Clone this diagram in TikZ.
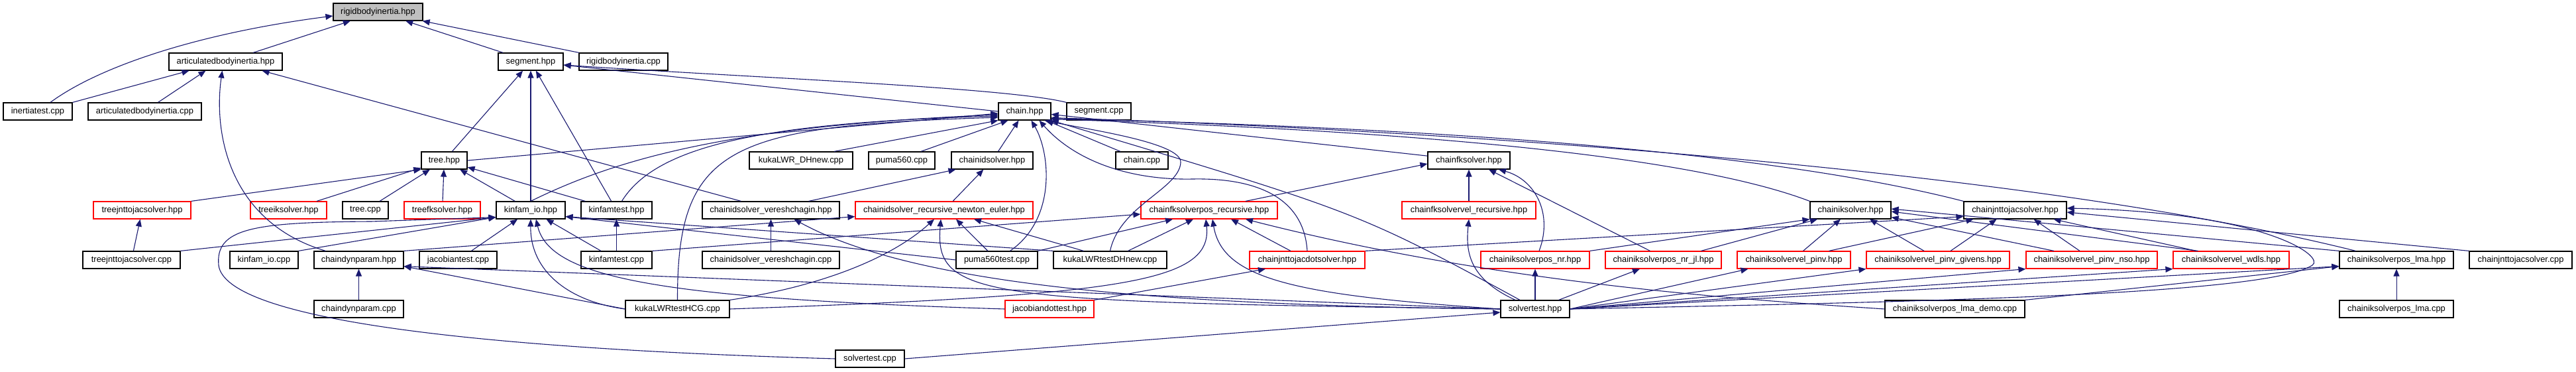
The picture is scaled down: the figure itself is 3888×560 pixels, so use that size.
\documentclass[tikz,border=0pt]{standalone}
\usepackage{fontspec}
\setmainfont{Liberation Sans}
\usetikzlibrary{arrows.meta}
\definecolor{eblue}{RGB}{25,25,112}
\begin{document}
\begin{tikzpicture}[x=1pt,y=-1pt,
  box/.style={draw=black, line width=1.2pt, fill=white, minimum height=26pt, inner sep=0pt, font=\fontsize{12.9}{14}\selectfont},
  rbox/.style={box, draw=red},
  edg/.style={draw=eblue, line width=1.1pt, -{Triangle[length=11pt,width=9pt]}},
]
\fill[white] (0,0) rectangle (3888,560);
\useasboundingbox (0,0) rectangle (3888,560);
% row 0
\node[box,fill=black!25,minimum width=135pt] (rbih) at (570.5,18) {rigidbodyinertia.hpp};
% row 1
\node[box,minimum width=171pt] (abih) at (340.5,93) {articulatedbodyinertia.hpp};
\node[box,minimum width=98pt] (segh) at (801,93) {segment.hpp};
\node[box,minimum width=134pt] (rbic) at (941,93) {rigidbodyinertia.cpp};
% row 2
\node[box,minimum width=104pt] (inertc) at (57,168) {inertiatest.cpp};
\node[box,minimum width=171pt] (abic) at (218.5,168) {articulatedbodyinertia.cpp};
\node[box,minimum width=79pt] (chainh) at (1546.5,168) {chain.hpp};
\node[box,minimum width=97pt] (segc) at (1658.5,168) {segment.cpp};
% row 3
\node[box,minimum width=69pt] (treeh) at (670.5,242) {tree.hpp};
\node[box,minimum width=156pt] (kukadh) at (1209,242) {kukaLWR\_DHnew.cpp};
\node[box,minimum width=100pt] (pumac) at (1361,242) {puma560.cpp};
\node[box,minimum width=123pt] (cidh) at (1497.5,242) {chainidsolver.hpp};
\node[box,minimum width=79pt] (chainc) at (1723.5,242) {chain.cpp};
\node[box,minimum width=124pt] (cfkh) at (2217,242) {chainfksolver.hpp};
% row 4
\node[rbox,minimum width=147pt] (tjsh) at (214.5,317) {treejnttojacsolver.hpp};
\node[rbox,minimum width=115pt] (tikh) at (435.5,317) {treeiksolver.hpp};
\node[box,minimum width=69pt] (treec) at (551.5,317) {tree.cpp};
\node[rbox,minimum width=115pt] (tfkh) at (667.5,317) {treefksolver.hpp};
\node[box,minimum width=104pt] (kioh) at (801,317) {kinfam\_io.hpp};
\node[box,minimum width=107pt] (kfth) at (930.5,317) {kinfamtest.hpp};
\node[box,minimum width=207pt] (cverh) at (1163.5,317) {chainidsolver\_vereshchagin.hpp};
\node[rbox,minimum width=268pt] (crneh) at (1425,317) {chainidsolver\_recursive\_newton\_euler.hpp};
\node[rbox,minimum width=206pt] (cfkprh) at (1825,317) {chainfksolverpos\_recursive.hpp};
\node[rbox,minimum width=202pt] (cfkvrh) at (2217,317) {chainfksolvervel\_recursive.hpp};
\node[box,minimum width=122pt] (cikh) at (2793,317) {chainiksolver.hpp};
\node[box,minimum width=155pt] (cjtjh) at (3041.5,317) {chainjnttojacsolver.hpp};
% row 5
\node[box,minimum width=147pt] (tjsc) at (198.5,392) {treejnttojacsolver.cpp};
\node[box,minimum width=103pt] (kioc) at (398.5,392) {kinfam\_io.cpp};
\node[box,minimum width=135pt] (cdph) at (541.5,392) {chaindynparam.hpp};
\node[box,minimum width=117pt] (jactc) at (691.5,392) {jacobiantest.cpp};
\node[box,minimum width=107pt] (kftc) at (930.5,392) {kinfamtest.cpp};
\node[box,minimum width=207pt] (cverc) at (1163.5,392) {chainidsolver\_vereshchagin.cpp};
\node[box,minimum width=123pt] (pumat) at (1504.5,392) {puma560test.cpp};
\node[box,minimum width=171pt] (kukadht) at (1675.5,392) {kukaLWRtestDHnew.cpp};
\node[rbox,minimum width=174pt] (cjtjdh) at (1973,392) {chainjnttojacdotsolver.hpp};
\node[rbox,minimum width=164pt] (cikpnrh) at (2317,392) {chainiksolverpos\_nr.hpp};
\node[rbox,minimum width=175pt] (cikpnrjlh) at (2510.5,392) {chainiksolverpos\_nr\_jl.hpp};
\node[rbox,minimum width=171pt] (cikvph) at (2707.5,392) {chainiksolvervel\_pinv.hpp};
\node[rbox,minimum width=216pt] (cikvpgh) at (2925,392) {chainiksolvervel\_pinv\_givens.hpp};
\node[rbox,minimum width=198pt] (cikvpnh) at (3157,392) {chainiksolvervel\_pinv\_nso.hpp};
\node[rbox,minimum width=175pt] (cikvwh) at (3367.5,392) {chainiksolvervel\_wdls.hpp};
\node[box,minimum width=172pt] (ciklmah) at (3617,392) {chainiksolverpos\_lma.hpp};
\node[box,minimum width=155pt] (cjtjc) at (3804.5,392) {chainjnttojacsolver.cpp};
% row 6
\node[box,minimum width=135pt] (cdpc) at (541.5,466) {chaindynparam.cpp};
\node[box,minimum width=157pt] (hcgc) at (1022.5,466) {kukaLWRtestHCG.cpp};
\node[rbox,minimum width=134pt] (jdth) at (1584,466) {jacobiandottest.hpp};
\node[box,minimum width=104pt] (sth) at (2317,466) {solvertest.hpp};
\node[box,minimum width=211pt] (lmademo) at (2950.5,466) {chainiksolverpos\_lma\_demo.cpp};
\node[box,minimum width=172pt] (ciklmac) at (3617,466) {chainiksolverpos\_lma.cpp};
% row 7
\node[box,minimum width=104pt] (stc) at (1313,541) {solvertest.cpp};

% ---- edges to rigidbodyinertia.hpp
\draw[edg] ([xshift=19pt]inertc.north) .. controls (150,100) and (300,50) .. ([yshift=-6pt]rbih.west);
\draw[edg] (abih) -- (rbih);
\draw[edg] (segh) -- (rbih);
\draw[edg] (rbic) -- (rbih);
% ---- to articulatedbodyinertia.hpp
\draw[edg] (inertc.north east) -- ([xshift=-55pt]abih.south);
\draw[edg] ([xshift=20pt]abic.north) -- ([xshift=-30pt]abih.south);
\draw[edg] ([xshift=-50pt]cdph.north) .. controls (345,335) and (322,200) .. ([xshift=-5pt]abih.south);
\draw[edg] ([xshift=-45pt]cverh.north) -- ([xshift=55pt]abih.south);
% ---- to segment.hpp
\draw[edg] (treeh) -- (segh);
\draw[edg] (kioh) -- (segh);
\draw[edg] (kfth) -- (segh);
\draw[edg] (chainh.west) -- ([yshift=-5pt]segh.east);
\draw[edg] (segc.north west) .. controls (1520,132) and (1150,118) .. ([yshift=-5pt]segh.east);
% ---- to chain.hpp
\draw[edg] (treeh.east) -- ([yshift=-3pt]chainh.west);
\draw[edg] (kioh.north) .. controls (930,240) and (1100,190) .. ([yshift=-5pt]chainh.west);
\draw[edg] ([xshift=8pt]kfth.north) .. controls (990,220) and (1150,185) .. ([yshift=-7pt]chainh.west);
\draw[edg] (hcgc.north) .. controls (1022,220) and (1100,190) .. ([yshift=-9pt]chainh.west);
\draw[edg] ([xshift=50pt]kukadh.north) -- (chainh.south west);
\draw[edg] ([xshift=29pt]pumac.north) -- ([xshift=-25pt]chainh.south);
\draw[edg] (cidh) -- (chainh);
\draw[edg] ([xshift=20pt]pumat.north) .. controls (1595,330) and (1585,230) .. ([xshift=10pt]chainh.south);
\draw[edg] (kukadht.north) .. controls (1690,310) and (1780,285) .. (1782,245) .. controls (1784,215) and (1640,195) .. ([xshift=30pt]chainh.south);
\draw[edg] (cjtjdh.north) .. controls (1968,300) and (1900,268) .. (1800,270) .. controls (1700,272) and (1620,240) .. ([xshift=22pt]chainh.south);
\draw[edg] (chainc) -- (chainh);
\draw[edg] (cfkh) -- (chainh);
\draw[edg] (cikh.north west) .. controls (2500,215) and (1900,190) .. ([yshift=2pt]chainh.south east);
\draw[edg] (cjtjh.north west) .. controls (2600,210) and (1950,188) .. ([yshift=3pt]chainh.south east);
\draw[edg] ([xshift=25pt]ciklmah.north west) .. controls (3000,240) and (2000,190) .. ([yshift=4pt]chainh.south east);
\draw[edg] ([xshift=-23pt]sth.north) .. controls (2050,320) .. (chainh.south east);
% ---- to tree.hpp
\draw[edg] (tjsh.north east) -- (treeh.south west);
\draw[edg] (tikh) -- (treeh);
\draw[edg] (treec) -- (treeh);
\draw[edg] (tfkh) -- (treeh);
\draw[edg] (kioh) -- (treeh);
\draw[edg] (kfth) -- (treeh);
% ---- to chainidsolver.hpp
\draw[edg] (crneh) -- (cidh);
\draw[edg] ([xshift=57pt]cverh.north) -- ([xshift=-55pt]cidh.south);
% ---- to chainfksolver.hpp
\draw[edg] ([xshift=55pt]cfkprh.north) -- ([yshift=-5pt]cfkh.west);
\draw[edg] (cfkvrh) -- (cfkh);
\draw[edg] ([xshift=6pt]cikpnrh.north) .. controls (2345,320) and (2315,270) .. ([xshift=45pt]cfkh.south);
\draw[edg] ([xshift=-20pt]cikpnrjlh.north) -- ([xshift=30pt]cfkh.south);
% ---- to treejnttojacsolver.hpp
\draw[edg] (tjsc) -- (tjsh);
% ---- to kinfam_io.hpp
\draw[edg] (stc.west) .. controls (700,525) and (340,480) .. (330,400) .. controls (325,345) and (380,335) .. (560,334) -- ([yshift=3pt]kioh.south west);
\draw[edg] (tjsc.north east) -- ([yshift=3pt]kioh.south west);
\draw[edg] (kioc.north east) -- ([yshift=3pt]kioh.south west);
\draw[edg] (jactc) -- (kioh);
\draw[edg] (hcgc.west) .. controls (860,455) and (800,410) .. (kioh.south);
\draw[edg] (jdth.west) .. controls (1000,450) and (830,420) .. ([xshift=8pt]kioh.south);
\draw[edg] (kftc) -- (kioh);
\draw[edg] (pumat.west) -- ([yshift=4pt]kioh.south east);
\draw[edg] (kukadht.north west) -- ([yshift=4pt]kioh.south east);
% ---- single includes
\draw[edg] (kftc) -- (kfth);
\draw[edg] (cverc) -- (cverh);
\draw[edg] (cdpc) -- (cdph);
\draw[edg] (ciklmac) -- (ciklmah);
\draw[edg] (cjtjc.north west) -- ([yshift=-3pt]cjtjh.east);
\draw[edg] (stc.east) -- ([yshift=-5pt]sth.west);
\draw[edg] (sth.west) .. controls (1750,460) and (1380,430) .. ([xshift=35pt]cverh.south);
% ---- to chainidsolver_recursive_newton_euler.hpp
\draw[edg] (cdph.north east) -- ([yshift=4pt]crneh.south west);
\draw[edg] (hcgc.north east) .. controls (1250,430) and (1350,385) .. ([xshift=-15pt]crneh.south);
\draw[edg] (sth.west) .. controls (1480,455) and (1410,450) .. ([xshift=-5pt]crneh.south);
\draw[edg] (pumat) -- ([xshift=18pt]crneh.south);
\draw[edg] ([xshift=-40pt]kukadht.north) -- ([xshift=45pt]crneh.south);
% ---- to chainfksolverpos_recursive.hpp
\draw[edg] (kftc.north east) -- ([yshift=-6pt]cfkprh.west);
\draw[edg] (pumat.north east) -- ([xshift=-55pt]cfkprh.south);
\draw[edg] ([xshift=27pt]kukadht.north) -- ([xshift=-24pt]cfkprh.south);
\draw[edg] (hcgc.east) .. controls (1700,445) and (1830,425) .. ([xshift=-5pt]cfkprh.south);
\draw[edg] (sth.west) .. controls (1950,445) and (1845,420) .. ([xshift=5pt]cfkprh.south);
\draw[edg] ([xshift=-25pt]cjtjdh.north) -- ([xshift=33pt]cfkprh.south);
\draw[edg] (lmademo.west) .. controls (2600,450) and (2250,425) .. ([xshift=55pt]cfkprh.south);
% ---- to chaindynparam.hpp
\draw[edg] (hcgc.west) -- ([yshift=4pt]cdph.south east);
\draw[edg] (sth.west) -- ([yshift=4pt]cdph.south east);
% ---- from solvertest.hpp
\draw[edg] ([xshift=-30pt]sth.north) .. controls (2217,420) and (2212,380) .. (cfkvrh.south);
\draw[edg] (sth) -- (cikpnrh);
\draw[edg] (sth) -- (cikpnrjlh);
\draw[edg] (sth.east) -- ([xshift=17pt]cikvph.south west);
\draw[edg] (sth.east) -- (cikvpgh.south west);
\draw[edg] (sth.east) -- (cikvpnh.south west);
\draw[edg] (sth.east) -- (cikvwh.south west);
\draw[edg] (sth.east) -- ([yshift=4pt]ciklmah.south west);
\draw[edg] (sth.east) .. controls (2900,455) and (3420,445) .. (3490,400) .. controls (3510,387) and (3420,320) .. ([yshift=3pt]cjtjh.east);
\draw[edg] (lmademo.north east) -- ([yshift=4pt]ciklmah.south west);
% ---- to chainiksolver.hpp
\draw[edg] (cikpnrh.north east) -- (cikh.south west);
\draw[edg] ([xshift=57pt]cikpnrjlh.north) -- ([xshift=-50pt]cikh.south);
\draw[edg] ([xshift=14pt]cikvph.north) -- ([xshift=-15pt]cikh.south);
\draw[edg] ([xshift=-21pt]cikvpgh.north) -- ([xshift=29pt]cikh.south);
\draw[edg] ([xshift=-57pt]cikvpnh.north) -- ([yshift=3pt]cikh.south east);
\draw[edg] ([xshift=-50pt]cikvwh.north) -- ([yshift=-2pt]cikh.east);
\draw[edg] (ciklmah.north west) -- ([yshift=2pt]cikh.east);
% ---- to chainjnttojacsolver.hpp
\draw[edg] (cjtjdh.north east) -- ([yshift=4pt]cjtjh.south west);
\draw[edg] ([xshift=53pt]cikvph.north) -- ([xshift=-63pt]cjtjh.south);
\draw[edg] ([xshift=19pt]cikvpgh.north) -- ([xshift=-28pt]cjtjh.south);
\draw[edg] ([xshift=-18pt]cikvpnh.north) -- ([xshift=28pt]cjtjh.south);
\draw[edg] ([xshift=-53pt]cikvwh.north) -- ([xshift=58pt]cjtjh.south);
% ---- jacobiandottest.hpp
\draw[edg] (jdth.north east) -- ([xshift=-63pt]cjtjdh.south);
\end{tikzpicture}
\end{document}
